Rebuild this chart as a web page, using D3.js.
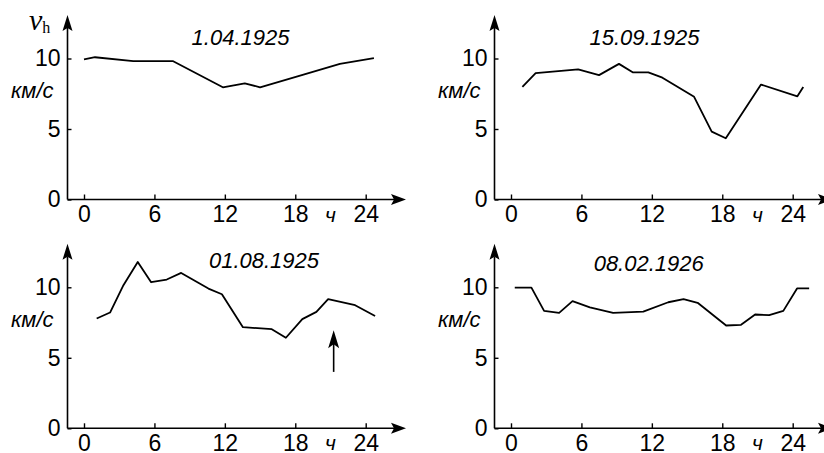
<!DOCTYPE html>
<html>
<head>
<meta charset="utf-8">
<script src="https://cdn.jsdelivr.net/npm/d3@7"></script>
<style>
  body { margin: 0; background: #fff; }
  text { font-family: "Liberation Sans", Arial, sans-serif; fill: #000; }
</style>
</head>
<body>
<script>
// Hourly speeds (hour of day, km/s)
const apr1925Hours = [0, 0.94, 4.2, 7.6, 11.83, 13.7, 15.0, 18.7, 21.8, 24.7];
const apr1925Speed = [9.93, 10.09, 9.81, 9.81, 7.96, 8.24, 7.96, 8.85, 9.62, 10.02];

const sep1925Hours = [0.97, 2.1, 5.72, 7.5, 9.2, 10.4, 11.7, 12.9, 15.6, 17.1, 18.3, 21.3, 24.4, 24.9];
const sep1925Speed = [7.98, 8.97, 9.23, 8.82, 9.62, 9.01, 9.01, 8.64, 7.28, 4.81, 4.34, 8.15, 7.32, 7.98];

const aug1925Hours = [1.08, 2.22, 3.36, 4.58, 5.72, 7.05, 8.28, 10.6, 11.75, 13.54, 16.0, 17.2, 18.6, 19.8, 20.8, 23.1, 24.8];
const aug1925Speed = [7.79, 8.21, 10.15, 11.8, 10.36, 10.55, 11.02, 9.91, 9.51, 7.17, 7.03, 6.42, 7.74, 8.26, 9.16, 8.73, 7.97];

const feb1926Hours = [0.32, 1.74, 2.82, 4.1, 5.24, 6.72, 8.7, 11.27, 13.4, 14.7, 15.9, 18.33, 19.6, 20.8, 22.0, 23.2, 24.37, 25.4];
const feb1926Speed = [9.98, 9.98, 8.33, 8.19, 9.02, 8.57, 8.19, 8.28, 8.94, 9.16, 8.9, 7.29, 7.34, 8.07, 8.02, 8.33, 9.92, 9.92];

const panelTitles = ["1.04.1925", "15.09.1925", "01.08.1925", "08.02.1926"];
const xTicks = [0, 6, 12, 18, 24];
const yTicks = [0, 5, 10];
const hourLabel = "ч";
const speedLabel = "км/с";

// marker arrow on the 01.08.1925 plot (hour, from speed, to speed)
const augMarker = [21.27, 4.0, 6.96];

// Set up the SVG container
const width = 824;
const height = 453;
const svg = d3.select("body")
  .append("svg")
  .attr("width", width)
  .attr("height", height);

// shared scales, every panel is just translated
const x = d3.scaleLinear().domain([0, 24]).range([84, 365.7]);
const y = d3.scaleLinear().domain([0, 10]).range([199.5, 58.5]);
const axisLeftX = 67.5;
const axisBase = y(0);

const series = [
  { title: panelTitles[0], hours: apr1925Hours, speed: apr1925Speed },
  { title: panelTitles[1], hours: sep1925Hours, speed: sep1925Speed },
  { title: panelTitles[2], hours: aug1925Hours, speed: aug1925Speed },
  { title: panelTitles[3], hours: feb1926Hours, speed: feb1926Speed }
];

// panel offsets + title placement
const layout = [
  { dx: 0, dy: 0, tx: 240.5, ty: 45 },
  { dx: 427, dy: 0, tx: 217.5, ty: 45 },
  { dx: 0, dy: 228.8, tx: 264, ty: 39 },
  { dx: 427, dy: 228.8, tx: 221.7, ty: 42.2 }
];

const line = d3.line()
  .x(d => x(d[0]))
  .y(d => y(d[1]));

series.forEach((s, i) => {
  const L = layout[i];
  const g = svg.append("g")
    .attr("transform", `translate(${L.dx},${L.dy})`);

  // x axis ticks and labels
  g.append("g")
    .attr("transform", `translate(0,${axisBase})`)
    .call(d3.axisBottom(x).tickValues(xTicks).tickSizeInner(-5).tickSizeOuter(0).tickPadding(6))
    .call(a => a.select(".domain").remove())
    .call(a => a.selectAll("line").attr("stroke-width", 1.4))
    .attr("font-size", 23);

  // y axis ticks and labels
  g.append("g")
    .attr("transform", `translate(${axisLeftX},0)`)
    .call(d3.axisLeft(y).tickValues(yTicks).tickSizeInner(-4).tickSizeOuter(0).tickPadding(7))
    .call(a => a.select(".domain").remove())
    .call(a => a.selectAll("line").attr("stroke-width", 1.4))
    .attr("font-size", 23);

  // axis lines with arrow heads
  g.append("line")
    .attr("x1", axisLeftX).attr("y1", axisBase)
    .attr("x2", axisLeftX).attr("y2", 28)
    .attr("stroke", "#000").attr("stroke-width", 1.6);
  g.append("path")
    .attr("d", `M${axisLeftX},15 L${axisLeftX - 5},31 L${axisLeftX},28 L${axisLeftX + 5},31 Z`)
    .attr("fill", "#000");

  g.append("line")
    .attr("x1", axisLeftX).attr("y1", axisBase)
    .attr("x2", 394).attr("y2", axisBase)
    .attr("stroke", "#000").attr("stroke-width", 1.6);
  g.append("path")
    .attr("d", `M406,${axisBase} L391,${axisBase - 5.5} L394,${axisBase} L391,${axisBase + 5.5} Z`)
    .attr("fill", "#000");

  // unit labels
  g.append("text")
    .attr("x", x(21))
    .attr("y", axisBase + 22)
    .attr("text-anchor", "middle")
    .attr("font-size", 21)
    .attr("font-style", "italic")
    .text(hourLabel);

  g.append("text")
    .attr("x", axisLeftX - 14)
    .attr("y", 98)
    .attr("text-anchor", "end")
    .attr("font-size", 22)
    .attr("font-style", "italic")
    .text(speedLabel);

  // date title
  g.append("text")
    .attr("x", L.tx)
    .attr("y", L.ty)
    .attr("text-anchor", "middle")
    .attr("font-size", 22)
    .attr("font-style", "italic")
    .text(s.title);

  // the curve
  g.append("path")
    .datum(d3.zip(s.hours, s.speed))
    .attr("d", line)
    .attr("fill", "none")
    .attr("stroke", "#000")
    .attr("stroke-width", 1.8)
    .attr("stroke-linejoin", "round");

  if (i === 2) {
    const ax = x(augMarker[0]);
    const tip = y(augMarker[2]);
    g.append("line")
      .attr("x1", ax).attr("y1", y(augMarker[1]))
      .attr("x2", ax).attr("y2", tip + 12)
      .attr("stroke", "#000").attr("stroke-width", 1.6);
    g.append("path")
      .attr("d", `M${ax},${tip} L${ax - 5.5},${tip + 18} L${ax},${tip + 14} L${ax + 5.5},${tip + 18} Z`)
      .attr("fill", "#000");
  }
});

// v_h label on the first panel
const vh = svg.append("text")
  .attr("x", 29)
  .attr("y", 30)
  .style("font-family", "'Liberation Serif', 'Times New Roman', serif");
vh.append("tspan")
  .attr("font-size", 30)
  .attr("font-style", "italic")
  .text("v");
vh.append("tspan")
  .attr("font-size", 16)
  .attr("dy", 3)
  .text("h");
</script>
</body>
</html>
